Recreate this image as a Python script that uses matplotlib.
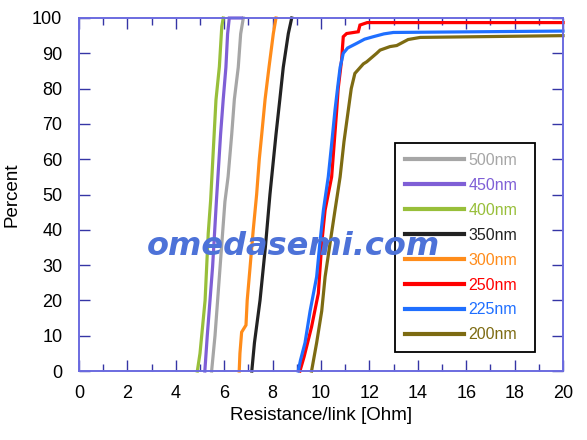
import matplotlib

matplotlib.use("Agg")
import matplotlib.pyplot as plt
from matplotlib.ticker import MultipleLocator

plt.rcParams["font.family"] = ["Liberation Sans", "DejaVu Sans"]

# cumulative distributions: (resistance/link [Ohm], percent)
x_500 = [5.48, 5.62, 5.83, 6.03, 6.16, 6.31, 6.42, 6.58, 6.68, 6.79]
y_500 = [0, 10, 29.5, 48, 55, 67, 77, 86, 95.5, 100]

x_450 = [5.2, 5.3, 5.52, 5.68, 5.85, 5.96, 6.07, 6.14, 6.21, 6.7]
y_450 = [0, 10, 29.5, 48.4, 67, 77, 86, 95.5, 100, 100]

x_400 = [4.89, 5.0, 5.21, 5.34, 5.44, 5.55, 5.66, 5.8, 5.9, 5.96]
y_400 = [0, 5, 20, 39, 48.4, 62.6, 76.8, 86.2, 97.6, 100]

x_350 = [7.14, 7.25, 7.48, 7.7, 7.89, 8.14, 8.3, 8.44, 8.65, 8.79]
y_350 = [0, 8, 20, 35, 50, 67, 77, 86, 95.6, 100]

x_300 = [6.62, 6.65, 6.72, 6.9, 6.95, 7.07, 7.2, 7.34, 7.45, 7.55, 7.69, 7.85, 8.03, 8.14]
y_300 = [0, 5, 11, 13, 20, 29.5, 40, 50, 60, 67, 77, 86, 95.6, 100]

x_250 = [9.13, 9.3, 9.61, 9.89, 10.03, 10.1, 10.17, 10.44, 10.65, 10.71, 10.85,
         10.92, 11.06, 11.54, 11.61, 11.91, 20]
y_250 = [0, 4, 12.5, 22, 36, 41, 45.6, 55, 74, 80, 88, 94.7, 95.6, 96.1, 98, 98.7, 98.7]

x_225 = [9.06, 9.15, 9.34, 9.55, 9.82, 9.95, 10.1, 10.3, 10.45, 10.58, 10.7, 10.79,
         10.92, 11.1, 11.47, 11.8, 12.16, 12.6, 12.99, 20]
y_225 = [0, 3, 8, 17, 26.7, 36, 45.6, 55, 65, 74, 81, 86, 90, 91.5, 92.8, 94, 94.7,
         95.5, 95.9, 96.3]

x_200 = [9.61, 9.82, 10.03, 10.17, 10.37, 10.58, 10.79, 10.95, 11.13, 11.25, 11.4,
         11.75, 11.89, 12.3, 12.44, 12.85, 13.13, 13.6, 14.1, 20]
y_200 = [0, 8, 17, 26.7, 36, 45.6, 55, 65, 74, 80, 84.3, 87, 87.6, 90, 90.9, 91.9,
         92.2, 93.9, 94.5, 95.0]

series = [
    ("500nm", x_500, y_500, "#a6a6a6"),
    ("450nm", x_450, y_450, "#7f5fd6"),
    ("400nm", x_400, y_400, "#98bf3a"),
    ("350nm", x_350, y_350, "#222222"),
    ("300nm", x_300, y_300, "#ff8c1a"),
    ("250nm", x_250, y_250, "#ff0000"),
    ("225nm", x_225, y_225, "#1f6fff"),
    ("200nm", x_200, y_200, "#7d6b12"),
]

fig = plt.figure(figsize=(5.87, 4.40), dpi=100)
ax = fig.add_axes([0.1346, 0.1568, 0.8245, 0.8023])

for name, xs, ys, col in series:
    ax.plot(xs, ys, color=col, lw=2.3, label=name, clip_on=False,
            solid_joinstyle="miter")

ax.set_xlim(0, 20)
ax.set_ylim(0, 100)
ax.xaxis.set_major_locator(MultipleLocator(2))
ax.xaxis.set_minor_locator(MultipleLocator(1))
ax.yaxis.set_major_locator(MultipleLocator(10))
ax.tick_params(which="both", direction="in", top=True, right=True,
               color="#3535a5", labelsize=13)
ax.tick_params(axis="x", pad=10)
ax.tick_params(axis="y", pad=12)
ax.tick_params(which="major", length=8, width=1)
ax.tick_params(which="minor", length=5, width=1)
for sp in ax.spines.values():
    sp.set_color("#6b6be0")
    sp.set_linewidth(1.4)

ax.set_xlabel("Resistance/link [Ohm]", fontsize=13.5, labelpad=4)
ax.set_ylabel("Percent", fontsize=13.5, labelpad=8)

leg = ax.legend(loc="lower left", bbox_to_anchor=(0.653, 0.054, 0.289, 0.6),
                mode="expand", fontsize=11.5,
                handlelength=3.7, handletextpad=0.3, labelspacing=0.62,
                labelcolor="linecolor", fancybox=False, framealpha=1,
                edgecolor="black", borderpad=0.6, borderaxespad=0)
leg.get_frame().set_linewidth(1.3)
for ln in leg.get_lines():
    ln.set_linewidth(3)

# watermark drawn on top of everything
fig.text(0.50, 0.44, "omedasemi.com", fontsize=23, fontweight="bold",
         style="italic", color="#4d72d8", ha="center", va="center",
         family=["DejaVu Sans"], zorder=10)

fig.savefig("out.png", dpi=100)
